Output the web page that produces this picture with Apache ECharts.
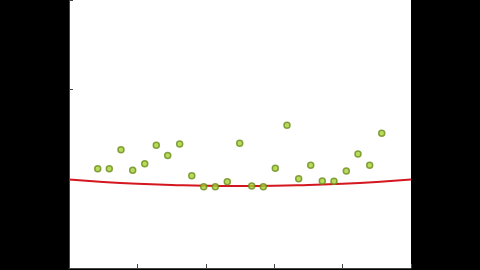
<!DOCTYPE html>
<html>
<head>
<meta charset="utf-8">
<script src="https://cdn.jsdelivr.net/npm/echarts@6/dist/echarts.min.js"></script>
<style>
html,body{margin:0;padding:0;background:#000;}
#c{width:480px;height:270px;}
</style>
</head>
<body>
<div id="c"></div>
<script>
// Scatter points (x, y)
const pointX = [0.42, 0.589, 0.760, 0.931, 1.107, 1.276, 1.443, 1.618, 1.795, 1.969, 2.139, 2.314, 2.496, 2.671, 2.841, 3.016, 3.187, 3.358, 3.534, 3.703, 3.874, 4.054, 4.225, 4.396, 4.572];
const pointY = [0.556, 0.556, 0.662, 0.547, 0.584, 0.687, 0.629, 0.694, 0.517, 0.455, 0.455, 0.483, 0.698, 0.459, 0.455, 0.558, 0.799, 0.500, 0.575, 0.487, 0.485, 0.543, 0.638, 0.575, 0.754];
// Red fit curve, read at several x positions
const curveX = [0, 0.5, 1, 1.5, 2, 2.5, 3, 3.5, 4, 4.5, 5];
const curveY = [0.495, 0.482, 0.472, 0.465, 0.460, 0.459, 0.460, 0.465, 0.472, 0.482, 0.495];

const chart = echarts.init(document.getElementById('c'), null, {renderer: 'canvas'});
chart.setOption({
  backgroundColor: '#000',
  animation: false,
  grid: {left: 69, right: 69, top: 0, bottom: 2, show: true, backgroundColor: '#fff', borderWidth: 0},
  xAxis: {
    type: 'value', min: 0, max: 5, interval: 1,
    axisLine: {show: true, onZero: false, lineStyle: {color: '#444', width: 1}},
    axisTick: {show: true, inside: true, length: 4, lineStyle: {color: '#444'}},
    axisLabel: {show: false},
    splitLine: {show: false}
  },
  yAxis: {
    type: 'value', min: 0, max: 1.5, interval: 1,
    axisLine: {show: true, onZero: false, lineStyle: {color: '#444', width: 1}},
    axisTick: {show: true, inside: true, length: 4, lineStyle: {color: '#444'}},
    axisLabel: {show: false},
    splitLine: {show: false}
  },
  series: [
    {
      type: 'line',
      data: curveX.map((x, i) => [x, curveY[i]]),
      smooth: true,
      showSymbol: false,
      lineStyle: {color: '#d4161f', width: 2},
      z: 2
    },
    {
      type: 'scatter',
      data: pointX.map((x, i) => [x, pointY[i]]),
      symbol: 'circle',
      symbolSize: 6,
      itemStyle: {color: '#a6d236', borderColor: '#6c8c1a', borderWidth: 1.5},
      z: 3
    }
  ]
});
</script>
</body>
</html>
